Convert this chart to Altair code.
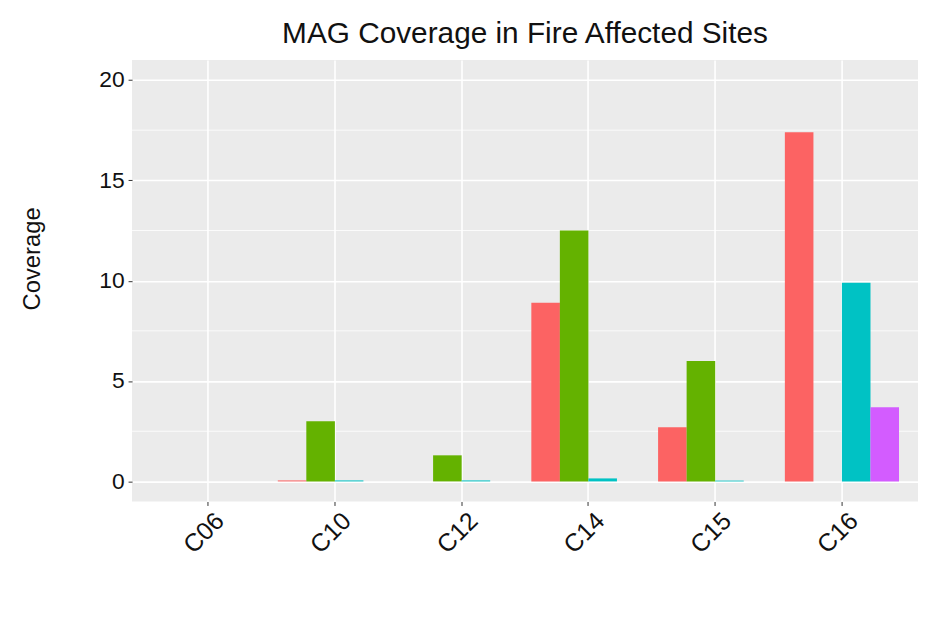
import altair as alt
import pandas as pd

sites = ["C06", "C10", "C12", "C14", "C15", "C16"]
series = ["Bin 1", "Bin 2", "Bin 3", "Bin 4"]
colors = ["#FC6363", "#64B200", "#00C2C4", "#D35CFF"]

bin1 = [0.0, 0.05, 0.0, 8.9, 2.7, 17.4]
bin2 = [0.0, 3.0, 1.3, 12.5, 6.0, 0.0]
bin3 = [0.0, 0.05, 0.05, 0.15, 0.04, 9.9]
bin4 = [0.0, 0.0, 0.0, 0.0, 0.0, 3.7]

y_ticks = [0, 5, 10, 15, 20]
y_minor = [2.5, 7.5, 12.5, 17.5]

rows = []
for name, vals in zip(series, [bin1, bin2, bin3, bin4]):
    for s, v in zip(sites, vals):
        rows.append({"site": s, "bin": name, "coverage": v})
df = pd.DataFrame(rows)
minor_df = pd.DataFrame({"coverage": y_minor})

FONT = "Liberation Sans"
yscale = alt.Scale(domain=[-1, 21], nice=False, zero=False)
xscale = alt.Scale(domain=sites, paddingInner=0, paddingOuter=0.1)

yaxis = alt.Axis(
    title="Coverage",
    values=y_ticks,
    grid=True,
    gridColor="white",
    gridWidth=1.6,
    labelFontSize=23,
    labelFont=FONT,
    labelColor="#111111",
    labelPadding=4,
    tickColor="#333333",
    tickSize=4,
    domain=False,
    titleFont=FONT,
    titleFontSize=24,
    titleFontWeight="normal",
    titleColor="#111111",
    titleAngle=-90,
    titleX=-100,
    titleY=200,
    titleAlign="center",
    titleBaseline="middle",
)

minor = alt.Chart(minor_df).mark_rule(color="white", strokeWidth=0.8).encode(
    y=alt.Y("coverage:Q", scale=yscale, axis=yaxis)
)

bars = alt.Chart(df).mark_bar(size=28.8).encode(
    x=alt.X(
        "site:N",
        scale=xscale,
        sort=sites,
        axis=alt.Axis(
            title=None,
            bandPosition=0.5,
            grid=True,
            gridColor="white",
            gridWidth=1.6,
            labelAngle=-45,
            labelAlign="right",
            labelBaseline="middle",
            labelFontSize=25,
            labelFont=FONT,
            labelColor="#111111",
            labelPadding=11,
            labelOffset=12,
            tickColor="#333333",
            tickSize=4,
            domain=False,
        ),
    ),
    xOffset=alt.XOffset(
        "bin:N",
        sort=series,
        scale=alt.Scale(domain=series, paddingInner=0, paddingOuter=0.222),
    ),
    y=alt.Y("coverage:Q", scale=yscale, axis=yaxis),
    y2=alt.datum(0),
    color=alt.Color(
        "bin:N",
        scale=alt.Scale(domain=series, range=colors),
        legend=None,
    ),
)

chart = (
    alt.layer(minor, bars)
    .properties(
        width=792,
        height=445,
        title=alt.TitleParams(
            "MAG Coverage in Fire Affected Sites",
            font=FONT,
            fontSize=30,
            fontWeight="normal",
            color="#111111",
            anchor="middle",
            offset=11,
        ),
        autosize=alt.AutoSizeParams(type="none"),
        padding={"left": 125, "top": 50, "right": 0, "bottom": 100},
    )
    .configure_view(fill="#EBEBEB", stroke=None)
)

chart.save("out.html", embed_options={"renderer": "svg", "actions": False})
